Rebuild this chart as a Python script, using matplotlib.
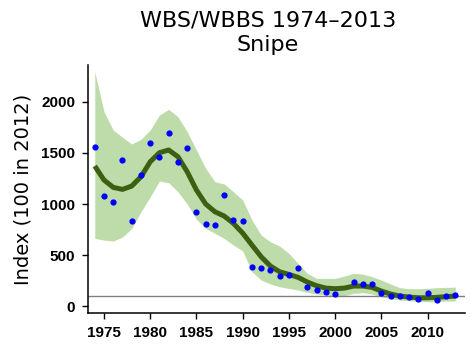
import numpy as np
import matplotlib
matplotlib.use("Agg")
import matplotlib.pyplot as plt

# survey years
years = list(range(1974, 2014))

# annual index (2001 missing - no survey)
index_years = [1974, 1975, 1976, 1977, 1978, 1979, 1980, 1981, 1982, 1983,
               1984, 1985, 1986, 1987, 1988, 1989, 1990, 1991, 1992, 1993,
               1994, 1995, 1996, 1997, 1998, 1999, 2000, 2002, 2003, 2004,
               2005, 2006, 2007, 2008, 2009, 2010, 2011, 2012, 2013]
index_vals = [1555, 1078, 1016, 1431, 830, 1281, 1597, 1457, 1695, 1411,
              1548, 918, 803, 794, 1088, 840, 830, 379, 372, 353,
              294, 301, 372, 186, 157, 137, 114, 235, 216, 212,
              127, 95, 98, 88, 69, 127, 59, 100, 105]

# smoothed trend and confidence limits
trend = [1372, 1235, 1163, 1143, 1176, 1267, 1414, 1503, 1529, 1463,
         1316, 1137, 1000, 924, 882, 810, 715, 598, 483, 392,
         336, 310, 281, 235, 199, 176, 170, 176, 196, 196,
         183, 147, 118, 98, 88, 81, 81, 85, 92, 98]
upper = [2297, 1904, 1725, 1653, 1588, 1634, 1725, 1872, 1928, 1855,
         1708, 1529, 1349, 1218, 1196, 1120, 1040, 843, 696, 630,
         588, 516, 418, 320, 271, 271, 271, 294, 320, 314,
         287, 255, 216, 180, 170, 170, 173, 180, 183, 186]
lower = [663, 647, 637, 676, 761, 924, 1071, 1225, 1208, 1120,
         1000, 850, 761, 712, 663, 598, 540, 336, 255, 216,
         189, 173, 157, 134, 118, 108, 98, 102, 124, 131,
         118, 91, 72, 59, 52, 46, 42, 42, 49, 49]

fig = plt.figure(figsize=(4.7, 3.53), dpi=100)
ax = fig.add_axes([88 / 470, 40 / 353, 377 / 470, 248 / 353])

ax.fill_between(years, lower, upper, color="#bedcaa", linewidth=0)
ax.axhline(100, color="#808080", linewidth=1)
ax.plot(years, trend, color="#3d5f12", linewidth=3.6, solid_capstyle="butt")
ax.plot(index_years, index_vals, "o", color="#0000ff", markersize=4.5,
        markeredgewidth=0)

ax.set_xlim(1973.27, 2014.05)
ax.set_ylim(-68, 2362)
ax.set_xticks([1975, 1980, 1985, 1990, 1995, 2000, 2005, 2010])
ax.set_yticks([0, 500, 1000, 1500, 2000])

for s in ["top", "right"]:
    ax.spines[s].set_visible(False)
for s in ["left", "bottom"]:
    ax.spines[s].set_linewidth(1.1)

ax.tick_params(length=4.3, width=1, pad=5)
for lab in ax.get_xticklabels() + ax.get_yticklabels():
    lab.set_fontfamily("Liberation Sans")
    lab.set_fontweight("bold")
    lab.set_fontsize(11)

ax.set_ylabel("Index (100 in 2012)", fontsize=14, fontfamily="DejaVu Sans",
              labelpad=6)
fig.text(0.57, 1 - 20 / 353, "WBS/WBBS 1974\u20132013", ha="center",
         va="center", fontsize=16, fontfamily="DejaVu Sans")
fig.text(0.57, 1 - 45 / 353, "Snipe", ha="center", va="center",
         fontsize=16, fontfamily="DejaVu Sans")

fig.savefig("out.png", dpi=100)
